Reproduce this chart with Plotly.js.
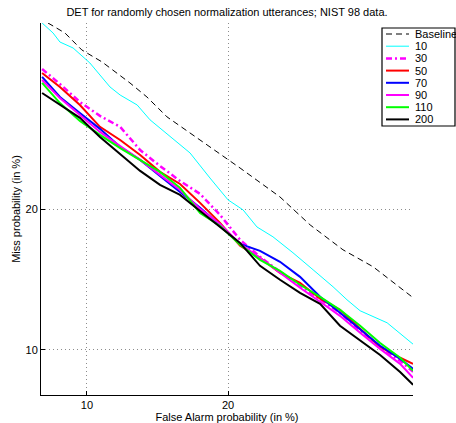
<!DOCTYPE html>
<html>
<head>
<meta charset="utf-8">
<script src="https://cdn.plot.ly/plotly-3.0.1.min.js"></script>
<style>html,body{margin:0;padding:0;background:#fff;}#chart{width:456px;height:423px;}</style>
</head>
<body>
<div id="chart"></div>
<script>
// ---- data (values in %) ----
const seriesNames = ["Baseline", "10", "30", "50", "70", "90", "110", "200"];

const baselineFA   = [8.03, 8.85, 9.72, 10.85, 12.56, 13.69, 15.11, 17.65, 21.07, 24.84, 27.91, 31.45, 34.86, 39.57];
const baselineMiss = [39.70, 38.50, 36.50, 35.10, 32.70, 31.13, 28.97, 26.56, 23.77, 21.07, 18.64, 16.63, 15.34, 13.17];

const n10FA   = [7.76, 8.27, 8.60, 9.26, 10.16, 10.90, 11.32, 11.94, 13.03, 13.90, 15.18, 16.85, 18.46, 20.00, 21.34, 22.62, 24.15, 26.14, 28.22, 30.36, 31.90, 33.37, 36.49, 39.57];
const n10Miss = [39.70, 38.50, 37.43, 36.73, 34.98, 33.27, 32.25, 31.35, 30.26, 28.66, 27.08, 25.25, 22.82, 20.81, 19.92, 18.47, 17.66, 16.40, 15.12, 13.91, 13.03, 12.32, 11.57, 10.32];

// shared false-alarm read positions for the clustered curves
const clusterFA = [7.76, 8.60, 9.62, 10.73, 11.94, 13.23, 14.60, 16.08, 17.65, 19.31, 21.07, 22.91, 24.84, 26.86, 28.96, 31.12, 33.37, 35.67, 38.02, 39.57];
const n30Miss  = [34.29, 32.58, 30.58, 29.08, 27.92, 25.54, 23.97, 22.54, 21.35, 19.49, 17.42, 16.09, 14.97, 13.98, 13.03, 12.19, 11.09, 10.12, 9.42, 8.85];
const n50Miss  = [33.83, 32.25, 30.26, 27.92, 26.56, 25.05, 23.40, 22.26, 20.54, 18.81, 16.94, 16.01, 14.90, 14.19, 13.10, 12.38, 11.21, 10.17, 9.58, 9.26];
const n70Miss  = [33.38, 31.13, 29.40, 27.71, 25.84, 24.56, 23.01, 21.53, 20.10, 18.64, 17.09, 16.55, 15.71, 14.61, 13.23, 12.19, 11.15, 10.23, 9.52, 9.01];
const n90Miss  = [33.04, 31.01, 29.18, 27.39, 25.94, 24.56, 23.11, 21.71, 20.01, 18.72, 17.09, 16.01, 14.90, 13.84, 12.90, 12.00, 10.97, 10.06, 9.26, 8.56];
const n110Miss = [32.70, 30.47, 28.55, 27.08, 25.74, 24.56, 23.40, 21.90, 19.66, 18.55, 17.02, 15.86, 15.04, 14.05, 13.23, 12.38, 11.39, 10.39, 9.58, 8.90];
const n200Miss = [31.58, 30.26, 28.87, 26.87, 25.15, 23.49, 22.17, 21.25, 19.83, 18.47, 17.17, 15.41, 14.40, 13.50, 12.77, 11.39, 10.55, 9.73, 8.85, 8.22];

const tickValuesPct = [10, 20];
const tickLabels = ["10", "20"];
const faRangePct = [7.71, 39.56];
const missRangePct = [7.75, 39.70];

// ---- probit (normal deviate) scale, as used by DET plots ----
function probit(p) {
  const a=[-3.969683028665376e+01,2.209460984245205e+02,-2.759285104469687e+02,1.383577518672690e+02,-3.066479806614716e+01,2.506628277459239e+00];
  const b=[-5.447609879822406e+01,1.615858368580409e+02,-1.556989798598866e+02,6.680131188771972e+01,-1.328068015956216e+01];
  const c=[-7.784894002430293e-03,-3.223964580411365e-01,-2.400758277161838e+00,-2.549732539343734e+00,4.374664141464968e+00,2.938163982698783e+00];
  const d=[7.784695709041462e-03,3.224671290700398e-01,2.445134137142996e+00,3.754408661907416e+00];
  const pl=0.02425;
  let q, r;
  if (p < pl) { q=Math.sqrt(-2*Math.log(p)); return (((((c[0]*q+c[1])*q+c[2])*q+c[3])*q+c[4])*q+c[5])/((((d[0]*q+d[1])*q+d[2])*q+d[3])*q+1); }
  if (p <= 1-pl) { q=p-0.5; r=q*q; return (((((a[0]*r+a[1])*r+a[2])*r+a[3])*r+a[4])*r+a[5])*q/(((((b[0]*r+b[1])*r+b[2])*r+b[3])*r+b[4])*r+1); }
  q=Math.sqrt(-2*Math.log(1-p)); return -(((((c[0]*q+c[1])*q+c[2])*q+c[3])*q+c[4])*q+c[5])/((((d[0]*q+d[1])*q+d[2])*q+d[3])*q+1);
}
const pz = arr => arr.map(v => probit(v / 100));

// ---- styles ----
const styles = [
  {color: "#000000", width: 1, dash: "6px,4px"},
  {color: "#00FFFF", width: 1, dash: "solid"},
  {color: "#FF00FF", width: 2.5, dash: "6px,3px,2px,3px"},
  {color: "#FF0000", width: 2, dash: "solid"},
  {color: "#0000FF", width: 2, dash: "solid"},
  {color: "#FF00FF", width: 2, dash: "solid"},
  {color: "#00FF00", width: 2, dash: "solid"},
  {color: "#000000", width: 2, dash: "solid"}
];

const xs = [baselineFA, n10FA, clusterFA, clusterFA, clusterFA, clusterFA, clusterFA, clusterFA];
const ys = [baselineMiss, n10Miss, n30Miss, n50Miss, n70Miss, n90Miss, n110Miss, n200Miss];

const traces = seriesNames.map((name, i) => ({
  type: "scatter", mode: "lines", name: name,
  x: pz(xs[i]), y: pz(ys[i]),
  line: {color: styles[i].color, width: styles[i].width, dash: styles[i].dash},
  showlegend: false, hoverinfo: "skip"
}));

// ---- custom compact legend (box, line samples, labels) ----
const L = 41, R = 413, T = 23, B = 395;
const px2x = p => (p - L) / (R - L);
const py2y = p => (B - p) / (B - T);
const shapes = [{
  type: "rect", xref: "paper", yref: "paper",
  x0: px2x(382), x1: px2x(455), y0: py2y(126), y1: py2y(28),
  line: {color: "#000", width: 1.2}, fillcolor: "#fff", layer: "above"
}];
const annotations = [];
seriesNames.forEach((name, i) => {
  const yy = py2y(34 + i * 12.2);
  shapes.push({
    type: "line", xref: "paper", yref: "paper",
    x0: px2x(386), x1: px2x(409), y0: yy, y1: yy,
    line: {color: styles[i].color, width: styles[i].width, dash: styles[i].dash}, layer: "above"
  });
  annotations.push({
    xref: "paper", yref: "paper", x: px2x(413), y: yy,
    xanchor: "left", yanchor: "middle", showarrow: false,
    text: name, font: {family: "Liberation Sans, Arial, sans-serif", size: 11, color: "#000"}
  });
});

const axisCommon = {
  showline: true, linecolor: "#000", linewidth: 1, mirror: false,
  ticks: "inside", ticklen: 4, tickcolor: "#000", tickwidth: 1,
  showgrid: true, gridcolor: "#8c8c8c", gridwidth: 1, griddash: "1px,3px",
  zeroline: false, tickmode: "array",
  tickfont: {family: "Liberation Sans, Arial, sans-serif", size: 11, color: "#000"},
  automargin: false
};

const layout = {
  width: 456, height: 423,
  margin: {l: L, r: 456 - R, t: T, b: 423 - B, pad: 0},
  paper_bgcolor: "#fff", plot_bgcolor: "#fff",
  font: {family: "Liberation Sans, Arial, sans-serif", size: 11, color: "#000"},
  title: {text: "DET for randomly chosen normalization utterances; NIST 98 data.",
          font: {size: 11, color: "#000"}, x: 0.5, xref: "paper", xanchor: "center",
          y: 1 - 12 / 423, yref: "container", yanchor: "middle"},
  xaxis: Object.assign({}, axisCommon, {
    range: pz(faRangePct), tickvals: pz(tickValuesPct), ticktext: tickLabels,
    title: {text: "False Alarm probability (in %)", font: {size: 11, color: "#000"}, standoff: 2}
  }),
  yaxis: Object.assign({}, axisCommon, {
    range: pz(missRangePct), tickvals: pz(tickValuesPct), ticktext: tickLabels,
    title: {text: "Miss probability (in %)", font: {size: 11, color: "#000"}, standoff: 2}
  }),
  shapes: shapes, annotations: annotations, showlegend: false
};

Plotly.newPlot("chart", traces, layout, {displayModeBar: false, staticPlot: true});
</script>
</body>
</html>
